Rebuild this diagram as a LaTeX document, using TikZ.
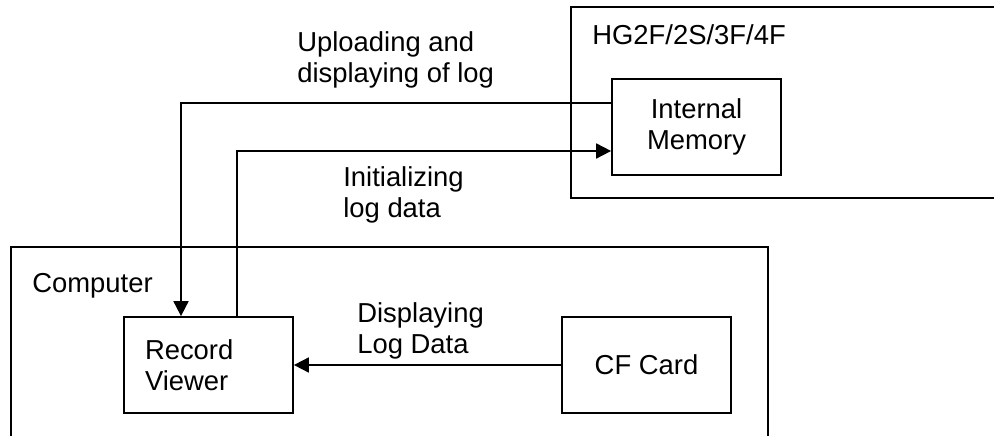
\documentclass[tikz,border=0pt]{standalone}
\usepackage{fontspec}
\setmainfont{Liberation Sans}
\usetikzlibrary{arrows.meta}
\begin{document}
\begin{tikzpicture}[x=0.02cm,y=-0.02cm,
	every node/.style={font=\fontsize{15.6}{17.6}\selectfont},
	blk/.style={draw,line width=1pt,minimum width=3.38cm,minimum height=1.92cm,inner sep=0pt,align=center},
	lbl/.style={anchor=base west,align=left,inner sep=0pt},
	flow/.style={line width=1pt,-{Triangle[length=0.3cm,width=0.3cm]}}]
	% page size, the outer boxes run off the page
	\useasboundingbox (0,0) rectangle (994,436);
	\clip (0,0) rectangle (994,436);
	% the HG2F unit
	\draw[line width=1pt] (571,7) rectangle (1010,198);
	\node[lbl] (unitlbl) at (592,44) {HG2F/2S/3F/4F};
	\node[blk] (mem) at (696.5,127) {Internal\\Memory};
	% the computer
	\draw[line width=1pt] (11,247) rectangle (768,460);
	\node[lbl] (pclbl) at (32,292) {Computer};
	\node[blk,align=left,text width=2.54cm,inner xsep=0.42cm] (viewer) at (208.5,365) {Record\\Viewer};
	\node[blk] (card) at (646.5,365) {CF Card};
	% the arrows
	\draw[flow] ([yshift=0.48cm]mem.west) -| ([xshift=-0.55cm]viewer.north);
	\draw[flow] ([xshift=0.57cm]viewer.north) |- ([yshift=-0.48cm]mem.west);
	\draw[flow] (card.west) -- (viewer.east);
	% arrow labels (base is the last line)
	\node[lbl] (uplbl) at (297,82) {Uploading and\\displaying of log};
	\node[lbl] (initlbl) at (343,217) {Initializing\\log data};
	\node[lbl] (displbl) at (357,353) {Displaying\\Log Data};
\end{tikzpicture}
\end{document}
